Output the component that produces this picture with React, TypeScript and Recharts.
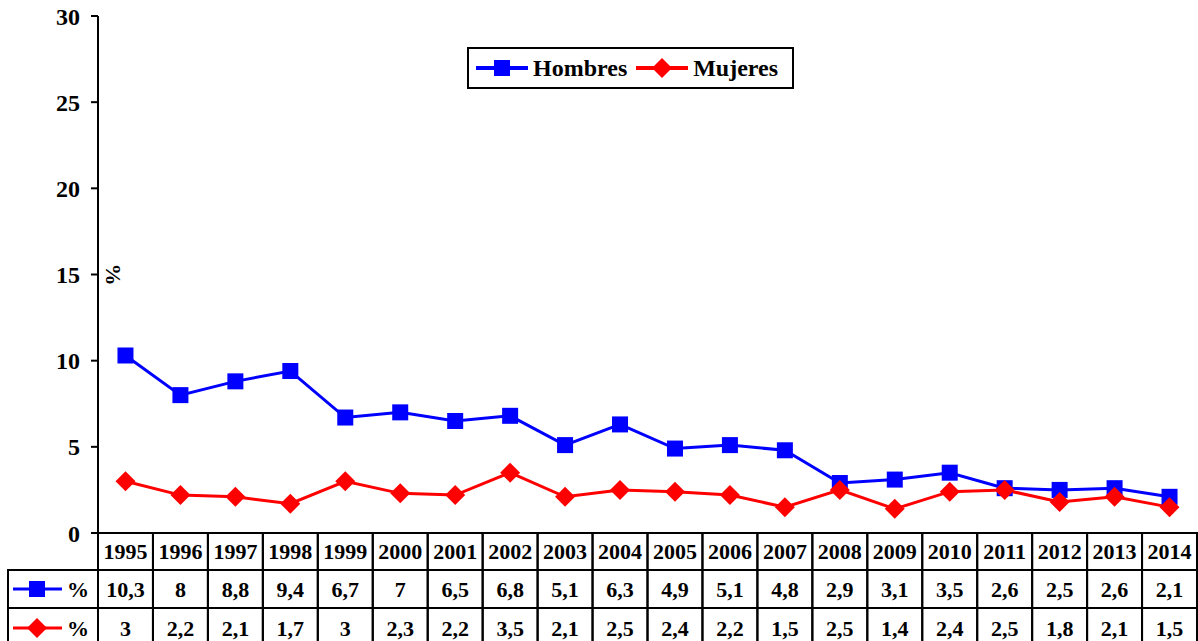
import { Legend, Line, LineChart, XAxis, YAxis } from "recharts";

const YEARS = [
  "1995", "1996", "1997", "1998", "1999", "2000", "2001", "2002", "2003", "2004",
  "2005", "2006", "2007", "2008", "2009", "2010", "2011", "2012", "2013", "2014",
];
const HOMBRES = [10.3, 8, 8.8, 9.4, 6.7, 7, 6.5, 6.8, 5.1, 6.3, 4.9, 5.1, 4.8, 2.9, 3.1, 3.5, 2.6, 2.5, 2.6, 2.1];
const MUJERES = [3, 2.2, 2.1, 1.7, 3, 2.3, 2.2, 3.5, 2.1, 2.5, 2.4, 2.2, 1.5, 2.5, 1.4, 2.4, 2.5, 1.8, 2.1, 1.5];
const Y_TICKS = [0, 5, 10, 15, 20, 25, 30];

const data = YEARS.map((year, i) => ({ year, hombres: HOMBRES[i], mujeres: MUJERES[i] }));

const W = 1198;
const H = 641;
const AXIS_W = 98;
const RIGHT = 1;
const CW = (W - AXIS_W - RIGHT) / YEARS.length;
const ROWS = [37, 38, 40];
const TABLE_LEFT = 8;
const FONT = '"Liberation Serif", "Times New Roman", serif';
const BLUE = "#0000ff";
const RED = "#ff0000";

const fmt = (v: number) => String(v).replace(".", ",");

function Square({ cx, cy }: { cx?: number; cy?: number }) {
  if (cx == null || cy == null) return null;
  return <rect x={cx - 8} y={cy - 8} width={16} height={16} fill={BLUE} />;
}

function Diamond({ cx, cy }: { cx?: number; cy?: number }) {
  if (cx == null || cy == null) return null;
  return (
    <polygon
      points={`${cx},${cy - 10} ${cx + 10},${cy} ${cx},${cy + 10} ${cx - 10},${cy}`}
      fill={RED}
    />
  );
}

function RowKey({ x, cy, kind }: { x: number; cy: number; kind: "h" | "m" }) {
  return (
    <g>
      <line x1={x + 5} y1={cy} x2={x + 54} y2={cy} stroke={kind === "h" ? BLUE : RED} strokeWidth={3} />
      {kind === "h" ? <Square cx={x + 29} cy={cy} /> : <Diamond cx={x + 29} cy={cy} />}
      <text x={x + 70} y={cy} dy="0.35em" textAnchor="middle" fontFamily={FONT} fontWeight="bold" fontSize={22} fill="#000">
        %
      </text>
    </g>
  );
}

function TableTick(props: any) {
  const { x, y, payload } = props;
  const i = payload.index;
  const left = x - CW / 2;
  const tops = [y, y + ROWS[0], y + ROWS[0] + ROWS[1]];
  const texts = [YEARS[i], fmt(HOMBRES[i]), fmt(MUJERES[i])];
  return (
    <g>
      {tops.map((t, r) => (
        <g key={r}>
          <rect x={left} y={t} width={CW} height={ROWS[r]} fill="none" stroke="#000" strokeWidth={2} />
          <text
            x={x}
            y={t + ROWS[r] / 2}
            dy="0.35em"
            textAnchor="middle"
            fontFamily={FONT}
            fontWeight="bold"
            fontSize={22}
            fill="#000"
          >
            {texts[r]}
          </text>
        </g>
      ))}
      {i === 0 && (
        <g>
          <rect x={TABLE_LEFT} y={tops[1]} width={left - TABLE_LEFT} height={ROWS[1]} fill="none" stroke="#000" strokeWidth={2} />
          <rect x={TABLE_LEFT} y={tops[2]} width={left - TABLE_LEFT} height={ROWS[2]} fill="none" stroke="#000" strokeWidth={2} />
          <RowKey x={TABLE_LEFT} cy={tops[1] + ROWS[1] / 2} kind="h" />
          <RowKey x={TABLE_LEFT} cy={tops[2] + ROWS[2] / 2} kind="m" />
        </g>
      )}
    </g>
  );
}

function PercentLabel(props: any) {
  const vb = props.viewBox;
  const x = vb.x + vb.width + 16;
  const y = vb.y + vb.height / 2;
  return (
    <text
      x={x}
      y={y}
      transform={`rotate(90 ${x} ${y})`}
      textAnchor="middle"
      dy="0.35em"
      fontFamily={FONT}
      fontWeight="bold"
      fontSize={22}
      fill="#000"
    >
      %
    </text>
  );
}

function LegendBox() {
  const item = (kind: "h" | "m", label: string) => (
    <div style={{ display: "flex", alignItems: "center", marginRight: 8 }}>
      <svg width={54} height={22}>
        <line x1={1} y1={11} x2={53} y2={11} stroke={kind === "h" ? BLUE : RED} strokeWidth={4} />
        {kind === "h" ? <Square cx={27} cy={11} /> : <Diamond cx={27} cy={11} />}
      </svg>
      <span style={{ marginLeft: 4, fontFamily: FONT, fontWeight: "bold", fontSize: 24, color: "#000" }}>
        {label}
      </span>
    </div>
  );
  return (
    <div
      style={{
        boxSizing: "border-box",
        width: 327,
        height: 42,
        border: "2px solid #000",
        background: "#fff",
        display: "flex",
        alignItems: "center",
        paddingLeft: 6,
      }}
    >
      {item("h", "Hombres")}
      {item("m", "Mujeres")}
    </div>
  );
}

export default function App() {
  return (
    <div style={{ position: "absolute", left: 0, top: 0, width: W, height: H, background: "#fff" }}>
      <LineChart width={W} height={H} data={data} margin={{ top: 16, right: RIGHT, bottom: 0, left: 0 }}>
        <XAxis
          dataKey="year"
          scale="band"
          height={H - 533}
          axisLine={{ stroke: "#000", strokeWidth: 2 }}
          tickLine={false}
          tickSize={0}
          tickMargin={0}
          interval={0}
          tick={<TableTick />}
        />
        <YAxis
          width={AXIS_W}
          domain={[0, 30]}
          ticks={Y_TICKS}
          interval={0}
          axisLine={{ stroke: "#000", strokeWidth: 2 }}
          tickLine={{ stroke: "#000", strokeWidth: 2 }}
          tickSize={7}
          tickMargin={11}
          tick={{ fontSize: 24, fontWeight: "bold", fill: "#000", fontFamily: FONT }}
          label={<PercentLabel />}
        />
        <Legend
          layout="horizontal"
          verticalAlign="middle"
          align="center"
          wrapperStyle={{ top: 47, left: 467, width: 327, height: 42 }}
          content={<LegendBox />}
        />
        <Line
          dataKey="hombres"
          name="Hombres"
          stroke={BLUE}
          strokeWidth={3}
          dot={<Square />}
          activeDot={false}
          isAnimationActive={false}
        />
        <Line
          dataKey="mujeres"
          name="Mujeres"
          stroke={RED}
          strokeWidth={3}
          dot={<Diamond />}
          activeDot={false}
          isAnimationActive={false}
        />
      </LineChart>
    </div>
  );
}
